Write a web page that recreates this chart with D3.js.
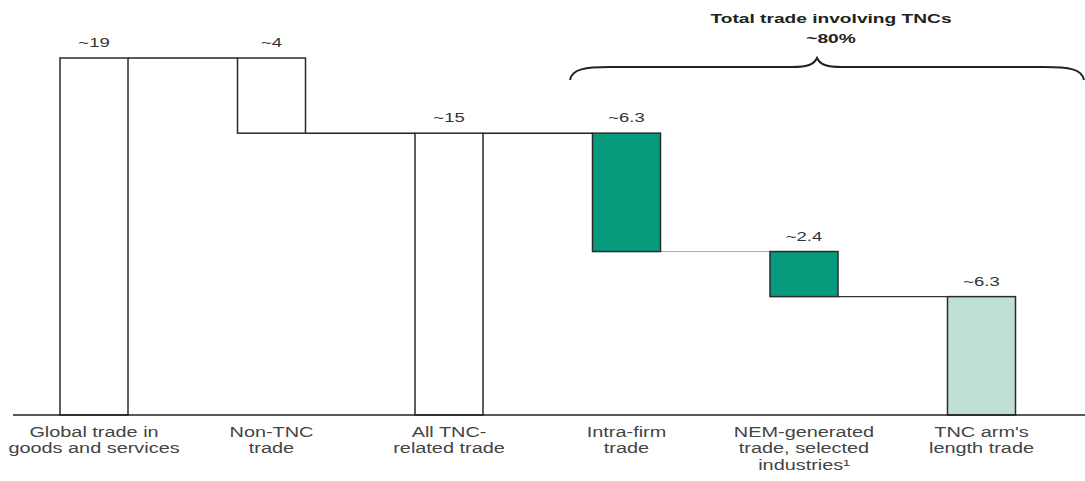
<!DOCTYPE html>
<html><head><meta charset="utf-8">
<script src="https://cdn.jsdelivr.net/npm/d3@7/dist/d3.min.js"></script>
<style>body{margin:0;background:#fff}svg{display:block}</style>
</head><body>
<svg id="c" width="1085" height="481"></svg>
<script>
const categories = ["Global trade in goods and services","Non-TNC trade","All TNC-related trade","Intra-firm trade","NEM-generated trade, selected industries¹","TNC arm's length trade"];
const catLines = [["Global trade in","goods and services"],["Non-TNC","trade"],["All TNC-","related trade"],["Intra-firm","trade"],["NEM-generated","trade, selected","industries¹"],["TNC arm's","length trade"]];
const values = [19, 4, 15, 6.3, 2.4, 6.3];
const valueLabels = ["~19","~4","~15","~6.3","~2.4","~6.3"];
const kinds = ["total","up","total","down","down","down"];
const fills = ["#ffffff","#ffffff","#ffffff","#079a7c","#079a7c","#c0dfd5"];
const title = ["Total trade involving TNCs","~80%"];

const svg = d3.select("#c");
const FONT = "Liberation Sans, Arial, sans-serif";
const SX = 1.42; // horizontal stretch of the original's lettering
const baseY = 415;
const x = d3.scalePoint().domain(categories).range([94, 981.5]);
const y = d3.scaleLinear().domain([0, 19]).range([baseY, 58]);
const bw = 68;

let run = 0;
const bars = categories.map((c, i) => {
  let lo, hi;
  if (kinds[i] === "total") { lo = 0; hi = values[i]; run = values[i]; }
  else if (kinds[i] === "up") { hi = values[i-1]; lo = hi - values[i]; run = lo; }
  else { hi = run; lo = run - values[i]; run = lo; }
  return {c, i, lo, hi};
});

const conn = [
  {a:0, b:1, v:bars[0].hi, col:"#222", w:1.5},
  {a:1, b:2, v:bars[1].lo, col:"#222", w:1.5},
  {a:2, b:3, v:bars[2].hi, col:"#222", w:1.5},
  {a:3, b:4, v:bars[3].lo, col:"#aaa", w:1},
  {a:4, b:5, v:bars[4].lo, col:"#333", w:1.2}
];
svg.selectAll("line.conn").data(conn).join("line")
  .attr("x1", d => x(categories[d.a]) + bw/2).attr("x2", d => x(categories[d.b]) - bw/2)
  .attr("y1", d => y(d.v)).attr("y2", d => y(d.v))
  .attr("stroke", d => d.col).attr("stroke-width", d => d.w);

svg.selectAll("rect.bar").data(bars).join("rect")
  .attr("x", d => x(d.c) - bw/2).attr("width", bw)
  .attr("y", d => y(d.hi)).attr("height", d => y(d.lo) - y(d.hi))
  .attr("fill", (d,i) => fills[i]).attr("stroke", "#2a2a2a").attr("stroke-width", 1.5);

svg.append("line").attr("x1", 13).attr("x2", 1085).attr("y1", baseY).attr("y2", baseY)
  .attr("stroke", "#222").attr("stroke-width", 1.6);

// value labels
svg.selectAll("text.val").data(bars).join("text")
  .attr("transform", d => `translate(${x(d.c)},${y(d.hi) - 11}) scale(${SX},1)`)
  .attr("text-anchor", "middle").attr("font-family", FONT)
  .attr("font-size", 13).attr("fill", "#333").text((d,i) => valueLabels[i]);

// category labels
const cl = svg.selectAll("text.cat").data(categories).join("text")
  .attr("transform", c => `translate(${x(c)},0) scale(${SX},1)`)
  .attr("text-anchor", "middle").attr("font-family", FONT)
  .attr("font-size", 14).attr("fill", "#444");
cl.each(function(c, i) {
  d3.select(this).selectAll("tspan").data(catLines[i]).join("tspan")
    .attr("x", 0).attr("y", (t, j) => 437 + j*16.5).text(t => t);
});

// brace annotation
const bl = 570, br = 1084, bc = 817, by = 67;
const brace = `M${bl},${by+13} C${bl+2},${by+2} ${bl+15},${by} ${bl+40},${by} L${bc-25},${by} C${bc-8},${by} ${bc-3},${by-3} ${bc},${by-9} C${bc+3},${by-3} ${bc+8},${by} ${bc+25},${by} L${br-40},${by} C${br-15},${by} ${br-2},${by+2} ${br},${by+13}`;
svg.append("path").attr("d", brace).attr("fill", "none").attr("stroke", "#222").attr("stroke-width", 2);

svg.selectAll("text.title").data(title).join("text")
  .attr("transform", (d,i) => `translate(831,${23 + i*20}) scale(${SX},1)`)
  .attr("text-anchor", "middle")
  .attr("font-family", FONT).attr("font-size", 13.5)
  .attr("font-weight", "bold").attr("fill", "#222").text(d => d);
</script>
</body></html>
